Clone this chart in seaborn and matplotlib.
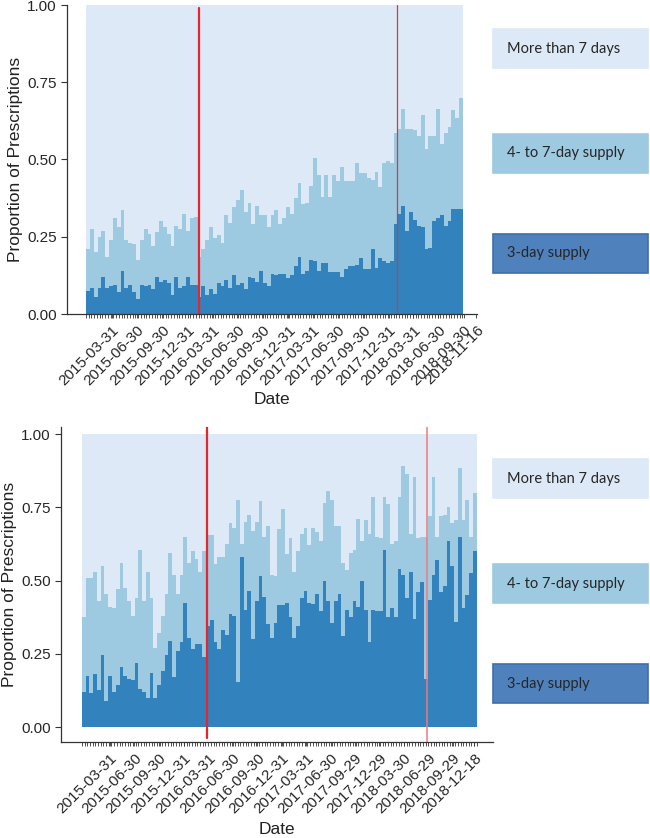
import pandas as pd
import numpy as np
import matplotlib
matplotlib.use("Agg")
import matplotlib.pyplot as plt
import matplotlib.dates as mdates
from matplotlib.patches import Rectangle
import seaborn as sns

# ---- data ----
# top panel: biweekly periods
top_start = "2015-01-02"
top_3day = [0.075, 0.085, 0.055, 0.085, 0.12, 0.085, 0.09, 0.095, 0.07, 0.14,
            0.085, 0.095, 0.07, 0.05, 0.095, 0.09, 0.095, 0.08, 0.12,
            0.105, 0.11, 0.10, 0.06, 0.12, 0.085, 0.09, 0.12, 0.095,
            0.095, 0.055, 0.09, 0.06, 0.08, 0.065, 0.10, 0.09, 0.11, 0.085,
            0.125, 0.095, 0.10, 0.08, 0.12, 0.115, 0.105, 0.14, 0.10,
            0.09, 0.13, 0.125, 0.13, 0.13, 0.115, 0.125, 0.155, 0.185, 0.13,
            0.14, 0.175, 0.17, 0.14, 0.165, 0.165, 0.135, 0.135, 0.135, 0.12,
            0.145, 0.155, 0.155, 0.16, 0.18, 0.145, 0.145, 0.21, 0.15,
            0.18, 0.17, 0.165, 0.17, 0.29, 0.325, 0.35, 0.27, 0.33, 0.305,
            0.285, 0.28, 0.21, 0.215, 0.30, 0.31, 0.32, 0.285, 0.30, 0.34, 0.34, 0.34]
# share with a supply of 7 days or less (3-day + 4- to 7-day)
top_upto7 = [0.21, 0.275, 0.20, 0.25, 0.27, 0.185, 0.24, 0.31, 0.28, 0.335,
             0.24, 0.23, 0.225, 0.175, 0.24, 0.275, 0.26, 0.22, 0.265,
             0.30, 0.28, 0.26, 0.22, 0.285, 0.275, 0.325, 0.27, 0.31,
             0.315, 0.185, 0.21, 0.24, 0.28, 0.245, 0.255, 0.23, 0.32, 0.295,
             0.345, 0.37, 0.40, 0.33, 0.36, 0.29, 0.35, 0.32, 0.32,
             0.28, 0.32, 0.335, 0.29, 0.31, 0.345, 0.325, 0.375, 0.425, 0.355,
             0.36, 0.415, 0.505, 0.45, 0.38, 0.45, 0.38, 0.45, 0.43, 0.475,
             0.43, 0.43, 0.43, 0.49, 0.455, 0.455, 0.44, 0.435, 0.46,
             0.41, 0.49, 0.495, 0.49, 0.585, 0.60, 0.665, 0.60, 0.60, 0.595,
             0.575, 0.645, 0.535, 0.575, 0.575, 0.665, 0.55, 0.585, 0.605, 0.66, 0.635, 0.70]
top_labels = ["2015-03-31", "2015-06-30", "2015-09-30", "2015-12-31", "2016-03-31",
              "2016-06-30", "2016-09-30", "2016-12-31", "2017-03-31", "2017-06-30",
              "2017-09-30", "2017-12-31", "2018-03-31", "2018-06-30", "2018-09-30",
              "2018-11-16"]
top_events = ["2016-02-10", "2018-02-01"]

# bottom panel
bot_start = "2014-12-24"
bot_3day = [0.12, 0.175, 0.115, 0.18, 0.125, 0.245, 0.09, 0.175, 0.12, 0.145,
            0.205, 0.175, 0.165, 0.16, 0.22, 0.13, 0.12, 0.10, 0.185, 0.10,
            0.145, 0.19, 0.245, 0.295, 0.17, 0.26, 0.29, 0.425, 0.305, 0.265,
            0.285, 0.285, 0.24, 0.345, 0.365, 0.29, 0.265, 0.33, 0.315, 0.385,
            0.38, 0.155, 0.58, 0.40, 0.465, 0.30, 0.43, 0.515, 0.445, 0.35,
            0.305, 0.355, 0.415, 0.415, 0.425, 0.375, 0.305, 0.345, 0.44,
            0.465, 0.425, 0.42, 0.455, 0.395, 0.50, 0.43, 0.355, 0.43, 0.455,
            0.31, 0.40, 0.375, 0.43, 0.41, 0.50, 0.40, 0.29, 0.40, 0.395,
            0.395, 0.605, 0.375, 0.405, 0.375, 0.54, 0.52, 0.44, 0.53, 0.37,
            0.46, 0.495, 0.165, 0.435, 0.52, 0.57, 0.46, 0.48, 0.635, 0.55,
            0.36, 0.65, 0.405, 0.45, 0.525, 0.60]
bot_upto7 = [0.375, 0.51, 0.51, 0.53, 0.43, 0.55, 0.455, 0.41, 0.405, 0.47,
             0.56, 0.475, 0.43, 0.38, 0.44, 0.605, 0.43, 0.53, 0.44, 0.27,
             0.32, 0.38, 0.455, 0.595, 0.52, 0.455, 0.52, 0.65, 0.56, 0.60,
             0.575, 0.53, 0.60, 0.655, 0.655, 0.555, 0.58, 0.58, 0.625, 0.695,
             0.68, 0.775, 0.625, 0.70, 0.725, 0.67, 0.70, 0.77, 0.65, 0.685,
             0.52, 0.515, 0.675, 0.745, 0.59, 0.645, 0.53, 0.60, 0.66,
             0.68, 0.62, 0.68, 0.665, 0.635, 0.765, 0.805, 0.775, 0.685, 0.685,
             0.56, 0.535, 0.595, 0.605, 0.71, 0.635, 0.705, 0.66, 0.785, 0.65,
             0.645, 0.785, 0.76, 0.625, 0.635, 0.785, 0.89, 0.865, 0.66, 0.855,
             0.645, 0.65, 0.65, 0.72, 0.855, 0.65, 0.72, 0.725, 0.75, 0.695,
             0.705, 0.885, 0.705, 0.775, 0.65, 0.80]
bot_labels = ["2015-03-31", "2015-06-30", "2015-09-30", "2015-12-31", "2016-03-31",
              "2016-06-30", "2016-09-30", "2016-12-31", "2017-03-31", "2017-06-30",
              "2017-09-29", "2017-12-29", "2018-03-30", "2018-06-29", "2018-09-29",
              "2018-12-18"]
bot_events = ["2016-03-27", "2018-06-24"]

legend_names = ["More than 7 days", "4- to 7-day supply", "3-day supply"]

c_light = "#dde9f6"
c_mid = "#9ecae1"
c_dark = "#3182bd"

sns.set_style("ticks")
plt.rcParams["font.family"] = ["Liberation Sans", "DejaVu Sans"]


def panel(ax, start, d3, d7, labels, events, xlim, ylim, ev_style):
    df = pd.DataFrame({"date": pd.date_range(start, periods=len(d3), freq="14D")})
    df["x"] = mdates.date2num(df["date"])
    df["three"] = d3
    df["upto7"] = d7
    df["all"] = 1.0
    for col, colr in [("all", c_light), ("upto7", c_mid), ("three", c_dark)]:
        sns.barplot(data=df, x="x", y=col, ax=ax, native_scale=True, width=1,
                    color=colr, saturation=1, linewidth=0, errorbar=None)
    for ev, (clr, lw, y0, y1) in zip(events, ev_style):
        ax.axvline(mdates.date2num(pd.Timestamp(ev)), y0, y1, color=clr, lw=lw)
    ax.set_xticks(mdates.date2num(pd.to_datetime(labels)))
    ax.set_xticklabels(labels, rotation=45, ha="right", rotation_mode="anchor", fontsize=11)
    # dense small ticks along the date axis
    fine = pd.date_range(df["date"].iloc[0] - pd.Timedelta(days=7),
                         df["date"].iloc[-1] + pd.Timedelta(days=7), freq="10D")
    ax.set_xticks(mdates.date2num(fine), minor=True)
    ax.tick_params(axis="x", which="minor", length=3, width=0.6, color="#333333")
    ax.tick_params(axis="x", which="major", length=3, width=0.6, color="#333333")
    ax.tick_params(axis="y", length=4, width=0.8, color="#333333", labelsize=11)
    ax.set_yticks([0, 0.25, 0.5, 0.75, 1.0])
    ax.set_yticklabels(["0.00", "0.25", "0.50", "0.75", "1.00"])
    ax.set_xlim(mdates.date2num(pd.Timestamp(xlim[0])), mdates.date2num(pd.Timestamp(xlim[1])))
    ax.set_ylim(*ylim)
    ax.set_xlabel("Date", fontsize=12.5, color="#222222")
    ax.set_ylabel("Proportion of Prescriptions", fontsize=12.5, color="#222222")
    sns.despine(ax=ax)
    for s in ["left", "bottom"]:
        ax.spines[s].set_color("#333333")
        ax.spines[s].set_linewidth(0.9)


fig = plt.figure(figsize=(6.5, 8.38), dpi=100)
ax1 = fig.add_axes([67 / 650, 1 - 314 / 838, 410 / 650, 309 / 838])
ax2 = fig.add_axes([61 / 650, 1 - 742 / 838, 432 / 650, 315 / 838])

panel(ax1, top_start, top_3day, top_upto7, top_labels, top_events,
      ("2014-10-18", "2018-11-18"), (0, 1.0),
      [("#e8252b", 1.6, 0, 0.99), ("#d8383c", 0.9, 0, 1.0)])
panel(ax2, bot_start, bot_3day, bot_upto7, bot_labels, bot_events,
      ("2014-09-30", "2019-02-25"), (-0.051, 1.024),
      [("#e8252b", 1.6, 0.013, 1.0), ("#f07a7a", 1.1, 0, 1.0)])
ax1.yaxis.set_label_coords(-0.107, 0.5)
ax2.yaxis.set_label_coords(-0.102, 0.5)
ax1.xaxis.set_label_coords(0.5, -0.252)
ax2.xaxis.set_label_coords(0.5, -0.254)

# legend boxes on the right
box_fill = [c_light, c_mid, "#4f81bd"]
box_edge = ["#dde9f6", "#9ecae1", "#3f6fae"]
for tops in [[29, 134, 234], [459, 564, 664]]:
    for name, t, fc, ec in zip(legend_names, tops, box_fill, box_edge):
        h = 39
        fig.patches.append(Rectangle((493 / 650, 1 - (t + h) / 838), 155 / 650, h / 838,
                                     transform=fig.transFigure, facecolor=fc,
                                     edgecolor=ec, linewidth=1.2))
        fig.text(507 / 650, 1 - (t + h / 2) / 838, name, fontsize=10.5,
                 family=["Lato", "DejaVu Sans"], color="#262626", va="center", ha="left")

fig.savefig("out.png", dpi=100)
